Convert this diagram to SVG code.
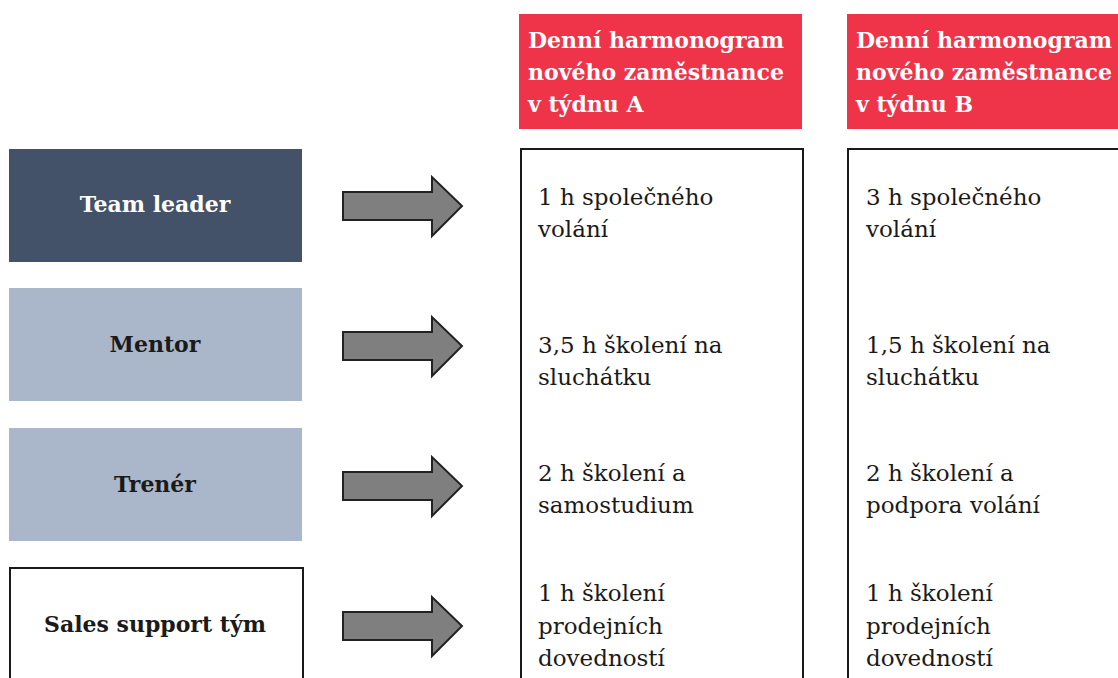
<svg xmlns="http://www.w3.org/2000/svg" width="1118" height="678" viewBox="0 0 1118 678">
  <defs>
    <style>
      .hdr { fill: #ef3349; }
      .hdr-t { font-family: "DejaVu Serif", "Liberation Serif", serif; font-weight: bold; font-size: 22px; fill: #ffffff; }
      .role-t { font-family: "DejaVu Serif", "Liberation Serif", serif; font-weight: bold; font-size: 22px; text-anchor: middle; }
      .cell { fill: #ffffff; stroke: #1a1a1a; stroke-width: 2; }
      .cell-t { font-family: "DejaVu Serif", "Liberation Serif", serif; font-size: 23px; fill: #1a1a1a; }
      .arrow { fill: #7f7f7f; stroke: #222222; stroke-width: 2; stroke-linejoin: miter; }
    </style>
    <polygon id="arr" class="arrow" points="343,-14 432,-14 432,-29 462,0 432,30 432,14 343,14"/>
  </defs>

  <!-- column headers -->
  <g id="header-a">
    <rect class="hdr" x="519" y="14" width="283" height="115"/>
    <text class="hdr-t" x="528" y="48">Denní harmonogram</text>
    <text class="hdr-t" x="528" y="80">nového zaměstnance</text>
    <text class="hdr-t" x="528" y="112">v týdnu A</text>
  </g>
  <g id="header-b">
    <rect class="hdr" x="847" y="14" width="283" height="115"/>
    <text class="hdr-t" x="856" y="48">Denní harmonogram</text>
    <text class="hdr-t" x="856" y="80">nového zaměstnance</text>
    <text class="hdr-t" x="856" y="112">v týdnu B</text>
  </g>

  <!-- schedule columns -->
  <g id="column-a">
    <rect class="cell" x="521" y="149" width="282" height="540"/>
    <text class="cell-t" x="538" y="205">1 h společného</text>
    <text class="cell-t" x="538" y="237">volání</text>
    <text class="cell-t" x="538" y="353">3,5 h školení na</text>
    <text class="cell-t" x="538" y="385">sluchátku</text>
    <text class="cell-t" x="538" y="481">2 h školení a</text>
    <text class="cell-t" x="538" y="513">samostudium</text>
    <text class="cell-t" x="538" y="601">1 h školení</text>
    <text class="cell-t" x="538" y="634">prodejních</text>
    <text class="cell-t" x="538" y="666">dovedností</text>
  </g>
  <g id="column-b">
    <rect class="cell" x="848" y="149" width="282" height="540"/>
    <text class="cell-t" x="866" y="205">3 h společného</text>
    <text class="cell-t" x="866" y="237">volání</text>
    <text class="cell-t" x="866" y="353">1,5 h školení na</text>
    <text class="cell-t" x="866" y="385">sluchátku</text>
    <text class="cell-t" x="866" y="481">2 h školení a</text>
    <text class="cell-t" x="866" y="513">podpora volání</text>
    <text class="cell-t" x="866" y="601">1 h školení</text>
    <text class="cell-t" x="866" y="634">prodejních</text>
    <text class="cell-t" x="866" y="666">dovedností</text>
  </g>

  <!-- roles -->
  <g id="team-leader">
    <rect x="9" y="149" width="293" height="113" fill="#435269"/>
    <text class="role-t" x="155" y="212" fill="#ffffff">Team leader</text>
  </g>
  <g id="mentor">
    <rect x="9" y="288" width="293" height="113" fill="#aab7ca"/>
    <text class="role-t" x="155" y="352" fill="#1a1a1a">Mentor</text>
  </g>
  <g id="trener">
    <rect x="9" y="428" width="293" height="113" fill="#aab7ca"/>
    <text class="role-t" x="155" y="492" fill="#1a1a1a">Trenér</text>
  </g>
  <g id="sales-support">
    <rect x="10" y="568" width="293" height="130" fill="#ffffff" stroke="#1a1a1a" stroke-width="2"/>
    <text class="role-t" x="155" y="632" fill="#1a1a1a">Sales support tým</text>
  </g>

  <!-- arrows from roles to schedule -->
  <g id="connectors">
    <use href="#arr" y="206"/>
    <use href="#arr" y="346"/>
    <use href="#arr" y="486"/>
    <use href="#arr" y="626"/>
  </g>
</svg>
